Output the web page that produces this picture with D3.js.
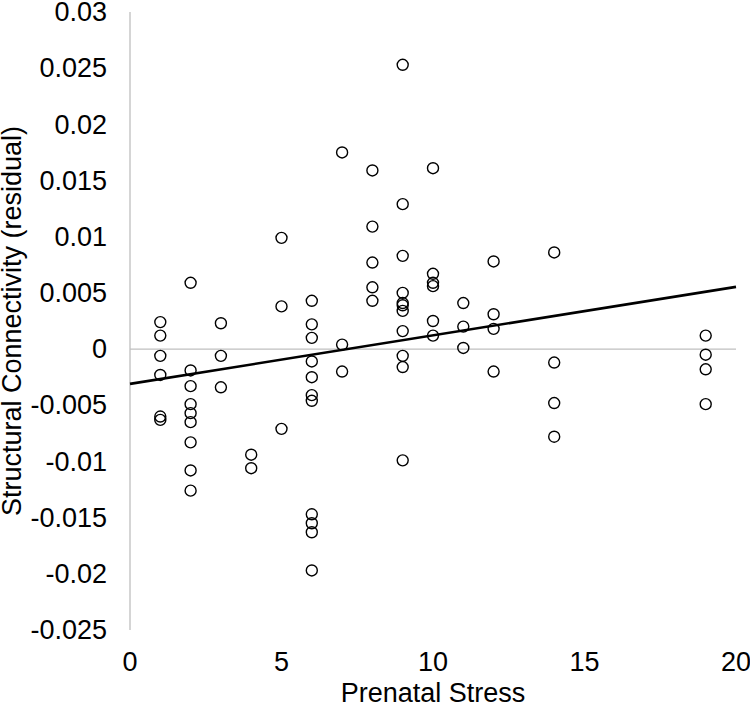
<!DOCTYPE html>
<html>
<head>
<meta charset="utf-8">
<script src="https://cdn.jsdelivr.net/npm/d3@7"></script>
<style>
  html, body { margin: 0; padding: 0; background: #fff; }
  svg { display: block; }
  text { font-family: "Liberation Sans", Arial, sans-serif; fill: #000; }
</style>
</head>
<body>
<svg id="chart" width="750" height="709"></svg>
<script>
// ---- data ----
const stress = [
  1,1,1,1,1,1,
  2,2,2,2,2,2,2,2,2,
  3,3,3,
  4,4,
  5,5,5,
  6,6,6,6,6,6,6,6,6,6,6,
  7,7,7,
  8,8,8,8,8,
  9,9,9,9,9,9,9,9,9,9,9,
  10,10,10,10,10,10,
  11,11,11,
  12,12,12,12,
  14,14,14,14,
  19,19,19,19
];
const connectivity = [
  0.0024, 0.0012, -0.0006, -0.0023, -0.0060, -0.0063,
  0.0059, -0.0019, -0.0033, -0.0049, -0.0057, -0.0065, -0.0083, -0.0108, -0.0126,
  0.0023, -0.0006, -0.0034,
  -0.0094, -0.0106,
  0.0099, 0.0038, -0.0071,
  0.0043, 0.0022, 0.0010, -0.0011, -0.0025, -0.0041, -0.0046, -0.0147, -0.0155, -0.0163, -0.0197,
  0.0175, 0.0004, -0.0020,
  0.0159, 0.0109, 0.0077, 0.0055, 0.0043,
  0.0253, 0.0129, 0.0083, 0.0050, 0.0041, 0.0039, 0.0034, 0.0016, -0.0006, -0.0016, -0.0099,
  0.0161, 0.0067, 0.0059, 0.0056, 0.0025, 0.0012,
  0.0041, 0.0020, 0.0001,
  0.0078, 0.0031, 0.0018, -0.0020,
  0.0086, -0.0012, -0.0048, -0.0078,
  0.0012, -0.0005, -0.0018, -0.0049
];
const xTicks = [0, 5, 10, 15, 20];
const yTicks = [-0.025, -0.02, -0.015, -0.01, -0.005, 0, 0.005, 0.01, 0.015, 0.02, 0.025, 0.03];
const xTitle = "Prenatal Stress";
const yTitle = "Structural Connectivity (residual)";

// ---- layout ----
const svg = d3.select("#chart");
const plotLeft = 130, plotRight = 736, plotTop = 12, plotBottom = 630;
const x = d3.scaleLinear().domain([0, 20]).range([plotLeft, plotRight]);
const y = d3.scaleLinear().domain([-0.025, 0.03]).range([plotBottom, plotTop]);
const fontSize = 27;
const axisColor = "#bfbfbf";

// vertical axis line
svg.append("line")
  .attr("x1", x(0)).attr("x2", x(0))
  .attr("y1", y(0.03)).attr("y2", y(-0.025))
  .attr("stroke", axisColor).attr("stroke-width", 1.3);

// horizontal axis line at zero
svg.append("line")
  .attr("x1", x(0)).attr("x2", x(20))
  .attr("y1", y(0)).attr("y2", y(0))
  .attr("stroke", axisColor).attr("stroke-width", 1.3);

// y tick labels
const fmt = v => (v === 0 ? "0" : String(+v.toFixed(3)));
svg.append("g").selectAll("text").data(yTicks).join("text")
  .attr("x", 107)
  .attr("y", d => y(d))
  .attr("dy", "0.34em")
  .attr("text-anchor", "end")
  .attr("font-size", fontSize)
  .text(fmt);

// x tick labels (low position, below plot)
svg.append("g").selectAll("text").data(xTicks).join("text")
  .attr("x", d => x(d))
  .attr("y", 671)
  .attr("text-anchor", "middle")
  .attr("font-size", fontSize)
  .text(d => d);

// titles
svg.append("text")
  .attr("x", (plotLeft + plotRight) / 2)
  .attr("y", 702)
  .attr("text-anchor", "middle")
  .attr("font-size", fontSize)
  .text(xTitle);

svg.append("text")
  .attr("transform", `translate(21, ${(plotTop + plotBottom) / 2}) rotate(-90)`)
  .attr("text-anchor", "middle")
  .attr("font-size", fontSize)
  .text(yTitle);

// linear trend (least squares)
const n = stress.length;
const mx = d3.mean(stress), my = d3.mean(connectivity);
let sxy = 0, sxx = 0;
for (let i = 0; i < n; i++) {
  sxy += (stress[i] - mx) * (connectivity[i] - my);
  sxx += (stress[i] - mx) * (stress[i] - mx);
}
const slope = sxy / sxx, intercept = my - slope * mx;
svg.append("line")
  .attr("x1", x(0)).attr("y1", y(intercept))
  .attr("x2", x(20)).attr("y2", y(intercept + slope * 20))
  .attr("stroke", "#000").attr("stroke-width", 2.6);

// points
svg.append("g").selectAll("circle").data(stress).join("circle")
  .attr("cx", d => x(d))
  .attr("cy", (d, i) => y(connectivity[i]))
  .attr("r", 5.5)
  .attr("fill", "none")
  .attr("stroke", "#000")
  .attr("stroke-width", 1.4);
</script>
</body>
</html>
